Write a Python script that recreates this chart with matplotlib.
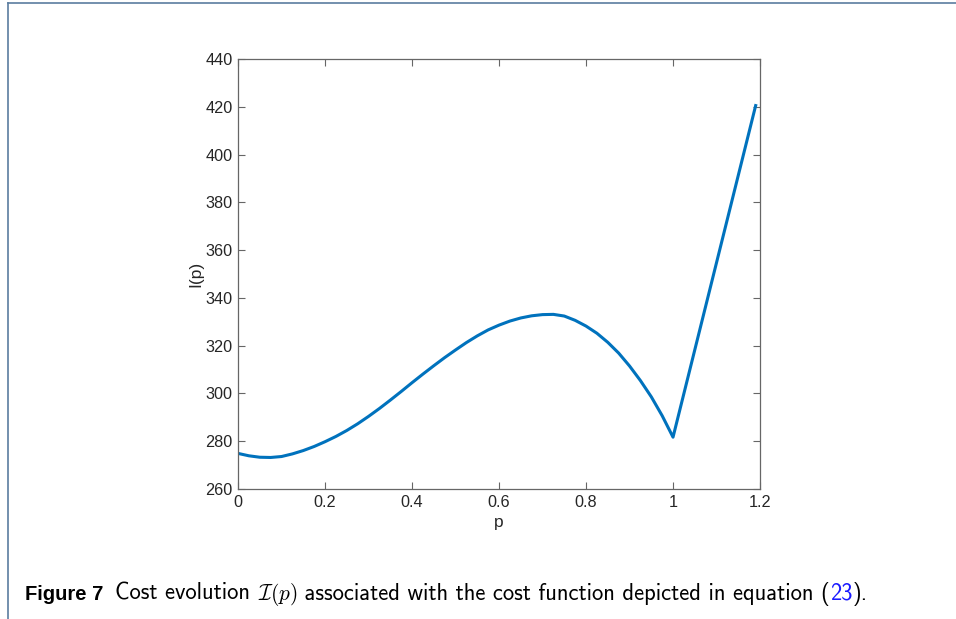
import numpy as np
import matplotlib
matplotlib.use('Agg')
import matplotlib.pyplot as plt
from matplotlib.lines import Line2D

# cost curve I(p)
p = [0.0, 0.025, 0.05, 0.075, 0.1, 0.125, 0.15, 0.175, 0.2, 0.225, 0.25,
     0.275, 0.3, 0.325, 0.35, 0.375, 0.4, 0.425, 0.45, 0.475, 0.5,
     0.525, 0.55, 0.575, 0.6, 0.625, 0.65, 0.675, 0.7, 0.725, 0.75,
     0.775, 0.8, 0.825, 0.85, 0.875, 0.9, 0.925, 0.95, 0.975, 1.0, 1.19]
cost = [274.9, 273.9, 273.3, 273.2, 273.6, 274.7, 276.1, 277.8, 279.8, 282.0, 284.5,
        287.3, 290.4, 293.7, 297.2, 300.8, 304.5, 308.1, 311.6, 315.0, 318.2,
        321.3, 324.1, 326.6, 328.6, 330.3, 331.6, 332.5, 333.0, 333.1, 332.4,
        330.6, 328.2, 325.2, 321.4, 316.9, 311.5, 305.4, 298.6, 290.7, 281.7, 420.5]

xticks = [0, 0.2, 0.4, 0.6, 0.8, 1, 1.2]
xticklabels = ['0', '0.2', '0.4', '0.6', '0.8', '1', '1.2']
yticks = [260, 280, 300, 320, 340, 360, 380, 400, 420, 440]

plt.rcParams['font.family'] = ['Liberation Sans', 'DejaVu Sans']
plt.rcParams['mathtext.fontset'] = 'cm'

fig = plt.figure(figsize=(9.56, 6.19), dpi=100)
ax = fig.add_axes([0.249, 0.21, 0.546, 0.6947])

ax.plot(p, cost, color='#0072BD', lw=2.2, solid_joinstyle='round')
ax.set_xlim(0, 1.2)
ax.set_ylim(260, 440)
ax.set_xticks(xticks)
ax.set_xticklabels(xticklabels)
ax.set_yticks(yticks)

edge = '#666666'
for s in ax.spines.values():
    s.set_color(edge)
    s.set_linewidth(0.9)
ax.tick_params(direction='in', length=5, width=0.8, color=edge, labelsize=11.7,
               labelcolor='#262626', top=True, right=True, pad=4)
ax.set_xlabel('p', fontsize=12.5, color='#262626', labelpad=4)
ax.set_ylabel('I(p)', fontsize=12.5, color='#262626', labelpad=1.5)

# page border of the paper
border = '#5b7da0'
fig.add_artist(Line2D([8/956, 1], [1 - 3/619, 1 - 3/619], color=border, lw=1.2,
                      transform=fig.transFigure))
fig.add_artist(Line2D([8/956, 8/956], [0, 1 - 3/619], color=border, lw=1.2,
                      transform=fig.transFigure))

# caption, built piece by piece (text, style, extra gap in px after it)
pieces = [
    ('Figure 7', dict(family='Liberation Sans', weight='bold', color='black', fontsize=14.5), 12),
    ('Cost evolution ', dict(family='cmss10', color='black', fontsize=16.3), 0),
    (r'$\mathcal{I}(p)$', dict(color='black', fontsize=15.3), 0),
    (' associated with the cost function depicted in equation (', dict(family='cmss10', color='black', fontsize=16.3), 0),
    ('23', dict(family='cmss10', color='#1a1aff', fontsize=16.3), 0),
    (').', dict(family='cmss10', color='black', fontsize=16.3), 0),
]
fig.canvas.draw()
renderer = fig.canvas.get_renderer()
x = 25
y_base = 619 - 600
for txt, kw, gap in pieces:
    t = fig.text(x / 956, y_base / 619, txt, va='baseline', ha='left', **kw)
    bb = t.get_window_extent(renderer)
    x += bb.width + gap

fig.savefig('out.png', dpi=100)
